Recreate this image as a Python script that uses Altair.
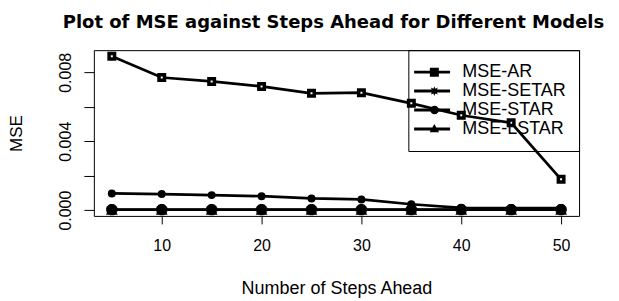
import math
import altair as alt
import pandas as pd

# ---- data ----
steps = [5, 10, 15, 20, 25, 30, 35, 40, 45, 50]
mse_ar = [0.00893, 0.00770, 0.00747, 0.00718, 0.00678, 0.00682, 0.00620, 0.00551, 0.00507, 0.00179]
mse_setar = [0.00003, 0.00003, 0.00003, 0.00003, 0.00003, 0.00003, 0.00003, 0.00003, 0.00003, 0.00003]
mse_star = [0.00097, 0.00093, 0.00087, 0.00081, 0.00068, 0.00062, 0.00034, 0.00013, 0.00012, 0.00012]
mse_lstar = [0.00002, 0.00002, 0.00002, 0.00002, 0.00002, 0.00002, 0.00002, 0.00002, 0.00002, 0.00002]
models = ["MSE-AR", "MSE-SETAR", "MSE-STAR", "MSE-LSTAR"]
series = [mse_ar, mse_setar, mse_star, mse_lstar]

rows = []
for m, vals in zip(models, series):
    for s, v in zip(steps, vals):
        rows.append({"steps": s, "mse": v, "model": m})
df = pd.DataFrame(rows)

# R-style 4% axis extension
allv = [v for vals in series for v in vals]
ylo, yhi = min(allv), max(allv)
ey = 0.04 * (yhi - ylo)
ydom = [ylo - ey, yhi + ey]
ex = 0.04 * (max(steps) - min(steps))
xdom = [min(steps) - ex, max(steps) + ex]

W, H = 486, 166
FONT = "Liberation Sans"

x_enc = alt.X("steps:Q", scale=alt.Scale(domain=xdom, nice=False, zero=False),
              axis=alt.Axis(values=[10, 20, 30, 40, 50], title="Number of Steps Ahead",
                            tickSize=8, labelPadding=14, labelFontSize=16,
                            titleFontSize=18, titleFontWeight="normal",
                            titleX=W / 2, titleY=78, titleBaseline="alphabetic",
                            titleAlign="center"))
y_enc = alt.Y("mse:Q", scale=alt.Scale(domain=ydom, nice=False, zero=False),
              axis=alt.Axis(values=[0, 0.002, 0.004, 0.006, 0.008], title="MSE",
                            labelExpr="(round(datum.value*1000) % 4 == 0) ? format(datum.value, '.3f') : ''",
                            tickSize=10, labelPadding=13, labelFontSize=16,
                            labelAngle=270, labelAlign="center", labelBaseline="alphabetic",
                            titleFontSize=17, titleFontWeight="normal", titleAngle=270,
                            titleX=-72, titleY=H / 2, titleBaseline="alphabetic",
                            titleAlign="center"))

base = alt.Chart(df).encode(x=x_enc, y=y_enc)

lines = base.mark_line(color="black", strokeWidth=2.7).encode(detail="model:N")

ar_pts = base.transform_filter(alt.datum.model == "MSE-AR").mark_point(
    shape="square", size=30, filled=True, fill="white", stroke="black", strokeWidth=3.5, opacity=1)
asterisk = "M-1,0H1M0,-1V1M-0.7,-0.7L0.7,0.7M-0.7,0.7L0.7,-0.7"
setar_pts = base.transform_filter(alt.datum.model == "MSE-SETAR").mark_point(
    shape=asterisk, size=130, filled=False, stroke="black", strokeWidth=4, opacity=1)
star_pts = base.transform_filter(alt.datum.model == "MSE-STAR").mark_point(
    shape="circle", size=64, filled=True, color="black", opacity=1)
lstar_pts = base.transform_filter(alt.datum.model == "MSE-LSTAR").mark_point(
    shape="triangle-up", size=140, filled=True, color="black", opacity=1)

# legend symbols: line segment with marker (unit = 4.5 px)
line_p = "M-3.6,-0.33H4.4V0.33H-3.6Z"
sq_p = "M-0.1,-1H1.9V1H-0.1Z"
circ_p = "M0,0A0.95,0.95 0 1,1 1.9,0A0.95,0.95 0 1,1 0,0Z"
tri_p = "M0.9,-1.1L1.95,0.7L-0.15,0.7Z"
pts = []
for i in range(16):
    a = -math.pi / 2 + i * math.pi / 8
    r = 1.1 if i % 2 == 0 else 0.55
    pts.append(f"{0.9 + r * math.cos(a):.3f},{r * math.sin(a):.3f}")
star_p = "M" + "L".join(pts) + "Z"
leg_paths = [line_p + sq_p, line_p + star_p, line_p + circ_p, line_p + tri_p]

legend_layer = base.mark_point(filled=True, opacity=0, color="black").encode(
    shape=alt.Shape("model:N",
                    scale=alt.Scale(domain=models, range=leg_paths),
                    legend=alt.Legend(title=None, orient="top-right", offset=0, padding=13,
                                      strokeColor="black",
                                      symbolSize=81, symbolOpacity=1,
                                      symbolFillColor="black", symbolStrokeColor="black",
                                      symbolStrokeWidth=0, labelOffset=23,
                                      labelFontSize=18, labelFont=FONT, labelColor="black",
                                      rowPadding=1, labelLimit=300)))

chart = alt.layer(lines, ar_pts, setar_pts, star_pts, lstar_pts, legend_layer).properties(
    width=W, height=H,
    title=alt.TitleParams("Plot of MSE against Steps Ahead for Different Models",
                          font="DejaVu Sans", fontSize=18, fontWeight="bold", color="black",
                          anchor="middle", frame="group", offset=-3, baseline="bottom", dx=-3),
    autosize=alt.AutoSizeParams(type="none"),
    padding={"left": 86, "top": 42, "right": 32, "bottom": 83},
).configure_view(stroke="black", strokeWidth=1).configure_axis(
    grid=False, domain=False, tickColor="black", labelColor="black", titleColor="black",
    labelFont=FONT, titleFont=FONT, tickWidth=1
)

chart.save("out.html", embed_options={"renderer": "svg", "actions": False})
